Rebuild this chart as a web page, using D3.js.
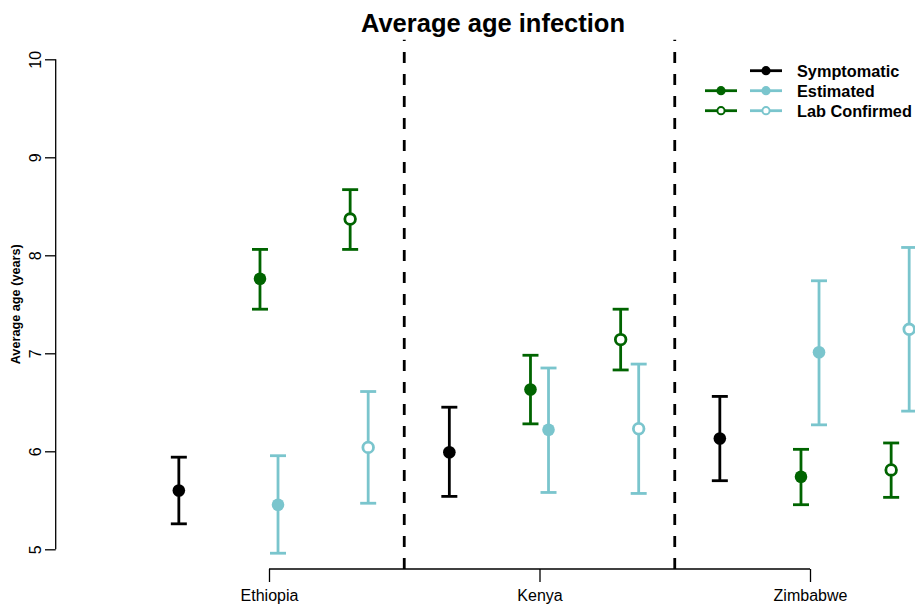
<!DOCTYPE html>
<html><head><meta charset="utf-8">
<script src="https://cdn.jsdelivr.net/npm/d3@7"></script>
<style>body{margin:0;background:#fff}svg{display:block}text{font-family:"Liberation Sans",Arial,sans-serif}</style>
</head><body>
<script>
const countries = ["Ethiopia", "Kenya", "Zimbabwe"];
const yTicks = [5, 6, 7, 8, 9, 10];
const symptomaticMean = [5.60, 5.99, 6.13];
const symptomaticLo   = [5.26, 5.54, 5.70];
const symptomaticHi   = [5.94, 6.45, 6.56];
const estGreenMean = [7.76, 6.63, 5.74];
const estGreenLo   = [7.45, 6.28, 5.455];
const estGreenHi   = [8.06, 6.98, 6.02];
const estCyanMean = [5.455, 6.22, 7.01];
const estCyanLo   = [4.96, 5.58, 6.27];
const estCyanHi   = [5.955, 6.85, 7.74];
const labGreenMean = [8.37, 7.14, 5.81];
const labGreenLo   = [8.06, 6.83, 5.53];
const labGreenHi   = [8.67, 7.45, 6.085];
const labCyanMean = [6.04, 6.23, 7.245];
const labCyanLo   = [5.47, 5.57, 6.41];
const labCyanHi   = [6.61, 6.89, 8.08];
const legendLabels = ["Symptomatic", "Estimated", "Lab Confirmed"];

const W = 915, H = 605;
const GREEN = "#006400", CYAN = "#7AC5CD", BLACK = "#000";
const svg = d3.select("body").append("svg").attr("width", W).attr("height", H);

const x = d3.scaleLinear().domain([0, 2]).range([269, 810]);
const y = d3.scaleLinear().domain([5, 10]).range([549.3, 59.3]);
const plotTop = 39.7, plotBottom = 569;

// title
svg.append("text").attr("x", 493).attr("y", 31.5).attr("text-anchor", "middle")
  .attr("font-size", 25.5).attr("font-weight", "bold").text("Average age infection");

// y axis
const yAxis = d3.axisLeft(y).tickValues(yTicks).tickSize(10.7).tickFormat(d3.format("d"));
const gy = svg.append("g").attr("transform", "translate(55.7,0)").call(yAxis);
gy.select(".domain").attr("d", `M0,${y(5)}V${y(10)}`).attr("stroke-width", 1.3);
gy.selectAll(".tick line").attr("stroke-width", 1.3);
gy.selectAll(".tick text").attr("font-size", 16).attr("x", null).attr("dy", null)
  .attr("text-anchor", "middle").attr("fill", "#000")
  .attr("transform", "translate(-15,0) rotate(-90)");

svg.append("text").attr("transform", `translate(19.5,${(y(5) + y(10)) / 2}) rotate(-90)`)
  .attr("text-anchor", "middle").attr("font-size", 12.7).attr("font-weight", "bold")
  .text("Average age (years)");

// x axis
const xAxis = d3.axisBottom(x).tickValues([0, 1, 2]).tickSize(13).tickFormat((d) => countries[d]);
const gx = svg.append("g").attr("transform", `translate(0,${plotBottom})`).call(xAxis);
gx.select(".domain").attr("d", `M${x(0)},0H${x(2)}`).attr("stroke-width", 1.3);
gx.selectAll(".tick line").attr("stroke-width", 1.3);
gx.selectAll(".tick text").attr("font-size", 16).attr("y", 32).attr("dy", null).attr("fill", "#000");

// dashed separators
[0.5, 1.5].forEach((v) => {
  svg.append("line").attr("x1", x(v)).attr("x2", x(v)).attr("y1", plotBottom).attr("y2", plotTop)
    .attr("stroke", "#000").attr("stroke-width", 2.8).attr("stroke-dasharray", "11,11");
});

// series
const series = [
  { mean: symptomaticMean, lo: symptomaticLo, hi: symptomaticHi, off: -1 / 3, color: BLACK, open: false },
  { mean: estGreenMean, lo: estGreenLo, hi: estGreenHi, off: -1 / 30, color: GREEN, open: false },
  { mean: estCyanMean, lo: estCyanLo, hi: estCyanHi, off: 1 / 30, color: CYAN, open: false },
  { mean: labGreenMean, lo: labGreenLo, hi: labGreenHi, off: 1 / 3 - 1 / 30, color: GREEN, open: true },
  { mean: labCyanMean, lo: labCyanLo, hi: labCyanHi, off: 1 / 3 + 1 / 30, color: CYAN, open: true },
];
const capHalf = 8;
series.forEach((s) => {
  const g = svg.append("g");
  countries.forEach((c, i) => {
    const cx = x(i + s.off);
    g.append("line").attr("x1", cx).attr("x2", cx).attr("y1", y(s.lo[i])).attr("y2", y(s.hi[i]))
      .attr("stroke", s.color).attr("stroke-width", 2.8);
    [s.lo[i], s.hi[i]].forEach((v) => {
      g.append("line").attr("x1", cx - capHalf).attr("x2", cx + capHalf).attr("y1", y(v)).attr("y2", y(v))
        .attr("stroke", s.color).attr("stroke-width", 2.8);
    });
    if (s.open) {
      g.append("circle").attr("cx", cx).attr("cy", y(s.mean[i])).attr("r", 5.3)
        .attr("fill", "#fff").attr("stroke", s.color).attr("stroke-width", 2.8);
    } else {
      g.append("circle").attr("cx", cx).attr("cy", y(s.mean[i])).attr("r", 6.3).attr("fill", s.color);
    }
  });
});

// legend
const lg = svg.append("g");
const rows = [70.7, 90.7, 110.7];
const legendCols = [
  { x1: 705, x2: 737, cx: 721, color: GREEN, rows: [1, 2] },
  { x1: 750, x2: 782, cx: 766, color: CYAN, rows: [1, 2] },
];
lg.append("line").attr("x1", 750).attr("x2", 782).attr("y1", rows[0]).attr("y2", rows[0])
  .attr("stroke", BLACK).attr("stroke-width", 2.8);
lg.append("circle").attr("cx", 766).attr("cy", rows[0]).attr("r", 4.6).attr("fill", BLACK);
legendCols.forEach((col) => {
  col.rows.forEach((r) => {
    lg.append("line").attr("x1", col.x1).attr("x2", col.x2).attr("y1", rows[r]).attr("y2", rows[r])
      .attr("stroke", col.color).attr("stroke-width", 2.8);
    if (r === 2) {
      lg.append("circle").attr("cx", col.cx).attr("cy", rows[r]).attr("r", 3.6)
        .attr("fill", "#fff").attr("stroke", col.color).attr("stroke-width", 2);
    } else {
      lg.append("circle").attr("cx", col.cx).attr("cy", rows[r]).attr("r", 4.6).attr("fill", col.color);
    }
  });
});
legendLabels.forEach((t, i) => {
  lg.append("text").attr("x", 797).attr("y", rows[i]).attr("dy", "0.36em")
    .attr("font-size", 16.3).attr("font-weight", "bold").text(t);
});
</script>
</body></html>
